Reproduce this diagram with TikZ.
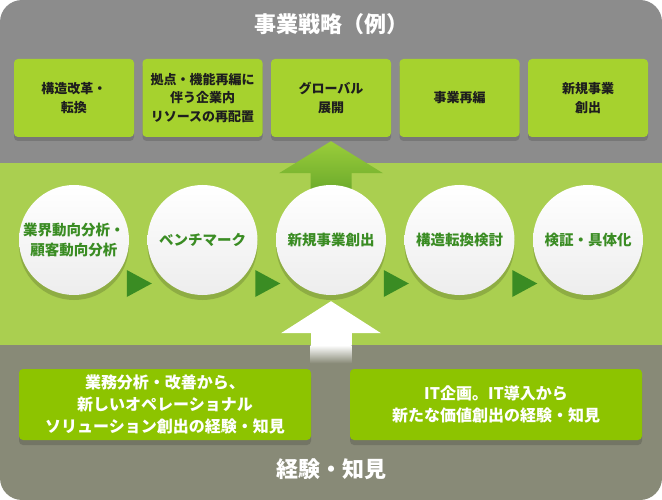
\documentclass[tikz,border=0pt]{standalone}
\usepackage{fontspec}
\setmainfont{Noto Sans CJK JP}
\usetikzlibrary{calc,positioning,shadows}
\pgfdeclarelayer{bg}
\pgfsetlayers{bg,main}
\definecolor{Band}{HTML}{8C8C8C}
\definecolor{Leaf}{HTML}{AACF50}
\definecolor{Soil}{HTML}{888A77}
\definecolor{Lime}{HTML}{A6D22E}
\definecolor{Moss}{HTML}{8DC400}
\definecolor{Deep}{HTML}{3A8C23}
\definecolor{Sprout}{HTML}{9ACD3A}
\definecolor{Grass}{HTML}{69A82B}
\definecolor{Mist}{HTML}{EDEDED}
\definecolor{Ink}{HTML}{1E1E1E}

\begin{document}
\begin{tikzpicture}[x=1pt,y=-1pt,
    goal/.style={fill=Lime,rounded corners=4pt,minimum width=120pt,minimum height=78pt,inner sep=2pt,
      align=center,text=Ink,font=\fontsize{13}{18.5}\selectfont\bfseries,
      drop shadow={shadow xshift=0pt,shadow yshift=-4pt,fill=black,opacity=0.15}},
    stage/.style={circle,minimum size=110pt,inner sep=0pt,top color=white,bottom color=Mist,
      align=center,text=Deep,font=\fontsize{14.5}{20}\selectfont\bfseries,
      drop shadow={shadow xshift=0pt,shadow yshift=-5pt,fill=black,opacity=0.16}},
    base/.style={fill=Moss,rounded corners=4pt,minimum width=292pt,minimum height=71pt,inner sep=2pt,
      align=center,text=white,font=\fontsize{16}{22}\selectfont\bfseries,
      drop shadow={shadow xshift=0pt,shadow yshift=-5pt,fill=black,opacity=0.15}},
    title/.style={text=white,font=\fontsize{22}{26}\selectfont\bfseries}]
  \useasboundingbox (0,0) rectangle (662,500);
  % strategies
  \node[title] (strat) at (331,24) {事業戦略（例）};
  \node[goal] (s1) at (74,98) {構造改革・\\転換};
  \node[goal] (s2) at (202.5,98) {拠点・機能再編に\\伴う企業内\\リソースの再配置};
  \node[goal] (s3) at (331,98) {グローバル\\展開};
  \node[goal] (s4) at (459.5,98) {事業再編};
  \node[goal] (s5) at (588,98) {新規事業\\創出};
  % process
  \node[stage] (p1) at (74,240) {業界動向分析・\\顧客動向分析};
  \node[stage] (p2) at (202.5,240) {ベンチマーク};
  \node[stage] (p3) at (331,240) {新規事業創出};
  \node[stage] (p4) at (459.5,240) {構造転換検討};
  \node[stage] (p5) at (588,240) {検証・具体化};
  \foreach \a/\b in {1/2,2/3,3/4,4/5}
    \fill[Deep] ($(p\a)!0.5!(p\b)+(-11.5,30)$) -- ++(0,27) -- ++(25,-13.5) -- cycle;
  % experience
  \node[base] (e1) at (165,404.5) {業務分析・改善から、\\新しいオペレーショナル\\ソリューション創出の経験・知見};
  \node[base] (e2) at (496,404.5) {IT企画。IT導入から\\新たな価値創出の経験・知見};
  \node[title] (know) at (331,469) {経験・知見};

  \begin{pgfonlayer}{bg}
    \begin{scope}
      \clip[rounded corners=22pt] (0,0) rectangle (662,500);
      \fill[Band] (0,0) rectangle (662,163);
      \fill[Leaf] (0,163) rectangle (662,345);
      \fill[Soil] (0,345) rectangle (662,500);
    \end{scope}
    % up into strategy
    \shade[top color=Sprout,bottom color=Grass] ($(s3.south)+(0,4)$) -- ($(s3.south)+(52,36)$)
      -- ($(s3.south)+(20.5,36)$) -- ($(p3.north)+(20.5,10)$) -- ($(p3.north)+(-20.5,10)$)
      -- ($(s3.south)+(-20.5,36)$) -- ($(s3.south)+(-52,36)$) -- cycle;
    % up from experience
    \fill[white] ($(p3.south)+(0,6)$) -- ($(p3.south)+(50,38)$) -- ($(p3.south)+(-50,38)$) -- cycle;
    \fill[white] ($(p3.south)+(-20.5,37.5)$) rectangle ($(p3.south)+(20.5,50)$);
    \shade[top color=white,bottom color=Soil] ($(p3.south)+(-20.5,50)$) rectangle ($(p3.south)+(20.5,68)$);
  \end{pgfonlayer}
\end{tikzpicture}
\end{document}
